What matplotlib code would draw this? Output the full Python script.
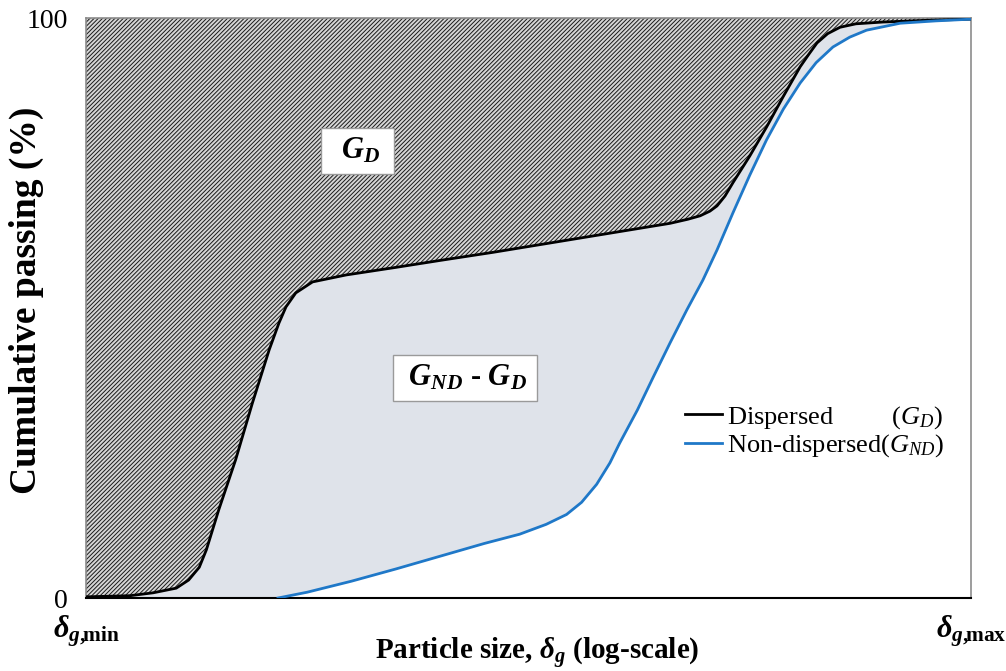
import numpy as np
import matplotlib
matplotlib.use("Agg")
import matplotlib.pyplot as plt

plt.rcParams['font.family'] = ['Liberation Serif', 'DejaVu Serif']
plt.rcParams['mathtext.fontset'] = 'custom'
plt.rcParams['mathtext.rm'] = 'Liberation Serif'
plt.rcParams['mathtext.it'] = 'Liberation Serif:italic'
plt.rcParams['mathtext.bf'] = 'Liberation Serif:bold'
plt.rcParams['mathtext.bfit'] = 'Liberation Serif:italic:bold'
plt.rcParams['hatch.linewidth'] = 0.7

# grading curves, x = position on log size axis (0 = d_min, 100 = d_max)
x_disp = [0, 5, 7.6, 10.2, 11.6, 12.8, 13.6, 15.0, 16.9, 18.8, 20.7, 21.8,
          22.6, 23.7, 25.6, 29.4, 35, 40, 46, 52.4, 58, 62, 66, 68, 69.4,
          70.5, 71.3, 72.2, 73.1, 75, 76.9, 78.8, 80.7, 81.7, 82.6, 83.8,
          85.2, 87, 90, 95, 100]
y_disp = [0.2, 0.4, 0.9, 1.7, 3.1, 5.3, 8.3, 15.2, 23.8, 33.6, 42.8, 47.4,
          50.2, 52.6, 54.5, 55.7, 57.0, 58.2, 59.6, 61.2, 62.6, 63.6, 64.6,
          65.3, 65.9, 66.7, 67.6, 69.3, 71.6, 76.2, 81.2, 86.5, 91.6, 93.8,
          95.7, 97.3, 98.4, 99.0, 99.3, 99.6, 99.8]

x_nondisp = [21.7, 25, 30, 35, 40, 45, 49, 52, 54.3, 56, 57.7, 59.2, 60.3,
             62.3, 64.1, 66, 67.9, 69.7, 71.3, 73.1, 75, 76.9, 78.8, 80.7,
             82.5, 84.4, 86.3, 88.2, 92, 96, 100]
y_nondisp = [0, 1.0, 2.9, 5.0, 7.2, 9.4, 11.0, 12.7, 14.4, 16.5, 19.6, 23.3,
             26.7, 32.4, 38.1, 44.0, 49.7, 54.8, 60.0, 66.4, 72.9, 79.0, 84.3,
             88.8, 92.3, 95.0, 96.7, 97.9, 99.1, 99.5, 99.8]

x_ticklabels = [r'$\mathbfit{\delta}_{\mathbfit{g}\mathbf{,}\!\mathbf{min}}$',
                r'$\mathbfit{\delta}_{\mathbfit{g}\mathbf{,}\!\mathbf{max}}$']
y_ticklabels = ['0', '100']

fig = plt.figure(figsize=(10.06, 6.71), dpi=100)
ax = fig.add_axes([86/1006, 1 - 598/671, 885/1006, 580/671])

# hatched area above the dispersed curve
ax.fill_between(x_disp, y_disp, 100, facecolor='#d6d6d6', edgecolor='#1a1a1a',
                hatch='/' * 8, linewidth=0, zorder=1)

# area between the two curves
poly_x = list(x_disp) + list(x_nondisp[::-1]) + [0]
poly_y = list(y_disp) + list(y_nondisp[::-1]) + [0]
ax.fill(poly_x, poly_y, color='#dfe3ea', linewidth=0, zorder=1)

ax.plot(x_disp, y_disp, color='black', lw=2, label='Dispersed' + ' ' * 9 + r'$(G_D)$', zorder=3)
ax.plot(x_nondisp, y_nondisp, color='#1f78c8', lw=2,
        label=r'Non-dispersed$(G_{ND})$', zorder=3)

box = dict(boxstyle='square,pad=0.28', fc='white', ec='#9a9a9a', lw=1)
ax.text(30.7, 77.1, r' $\,\mathbfit{G}_{\mathbfit{D}}\,$ ', ha='center', va='center',
        fontsize=22, bbox=box, zorder=5)
ax.text(42.8, 37.9, r' $\mathbfit{G}_{\mathbfit{ND}}$ - $\mathbfit{G}_{\mathbfit{D}}$ ',
        ha='center', va='center', fontsize=22, fontweight='bold', bbox=box, zorder=5)

ax.set_xlim(0, 100)
ax.set_ylim(0, 100)
ax.set_xticks([0, 100])
ax.set_xticklabels(x_ticklabels, fontsize=22)
ax.set_yticks([0, 100])
ax.set_yticklabels(y_ticklabels, fontsize=20)
ax.tick_params(axis='x', length=0, pad=11)
ax.tick_params(axis='y', length=0, pad=13)

ax.set_xlabel(r'Particle size, $\mathbfit{\delta}_{\mathbfit{g}}$ (log-scale)',
              fontsize=21, fontweight='bold')
ax.xaxis.set_label_coords(0.51, -0.066)
ax.set_ylabel('Cumulative passing (%)', fontsize=27, fontweight='bold')
ax.yaxis.set_label_coords(-0.047, 0.513)

for side in ['top', 'left', 'right']:
    ax.spines[side].set_color('#8c8c8c')
    ax.spines[side].set_linewidth(1.2)
ax.spines['bottom'].set_color('black')
ax.spines['bottom'].set_linewidth(1.5)

ax.legend(loc='upper left', bbox_to_anchor=(0.677, 0.334), frameon=False,
          fontsize=19, handlelength=1.4, handletextpad=0.2, labelspacing=0.05,
          borderpad=0, borderaxespad=0)

fig.savefig('out.png', dpi=100)
